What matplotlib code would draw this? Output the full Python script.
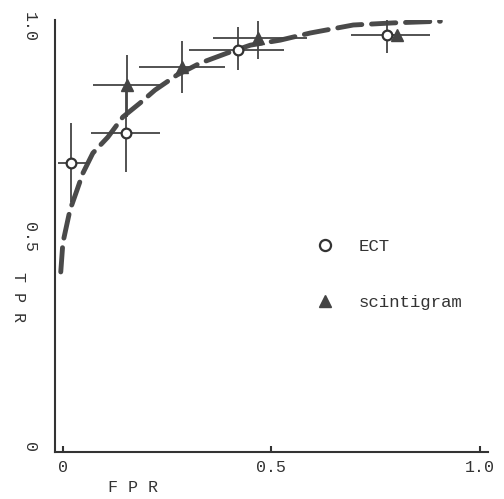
import matplotlib
matplotlib.use("Agg")
import matplotlib.pyplot as plt
from matplotlib.lines import Line2D

plt.rcParams['font.family'] = ['Liberation Mono', 'DejaVu Sans Mono']

# ECT points (FPR, TPR) with asymmetric errors
ect_fpr = [0.019, 0.151, 0.420, 0.779]
ect_tpr = [0.676, 0.748, 0.945, 0.980]
ect_xerr_lo = [0.031, 0.084, 0.117, 0.087]
ect_xerr_hi = [0.044, 0.082, 0.111, 0.020]
ect_yerr_lo = [0.093, 0.093, 0.047, 0.042]
ect_yerr_hi = [0.095, 0.097, 0.055, 0.046]

# scintigram points
sc_fpr = [0.154, 0.286, 0.469, 0.803]
sc_tpr = [0.862, 0.905, 0.974, 0.981]
sc_xerr_lo = [0.082, 0.103, 0.108, 0.030]
sc_xerr_hi = [0.079, 0.103, 0.118, 0.079]
sc_yerr_lo = [0.076, 0.062, 0.050, 0.0]
sc_yerr_hi = [0.071, 0.062, 0.041, 0.0]

# fitted ROC curve
curve_fpr = [-0.005, 0.0, 0.017, 0.034, 0.048, 0.072, 0.108, 0.144, 0.185,
             0.221, 0.274, 0.329, 0.394, 0.450, 0.522, 0.594, 0.697, 0.793, 0.906]
curve_tpr = [0.417, 0.486, 0.564, 0.612, 0.652, 0.700, 0.738, 0.786, 0.819,
             0.850, 0.886, 0.914, 0.938, 0.957, 0.969, 0.986, 1.005, 1.010, 1.014]

fig = plt.figure(figsize=(5.04, 4.99), dpi=100)
ax = fig.add_axes([0.109, 0.094, 0.859, 0.866])

ax.plot(curve_fpr, curve_tpr, color='#4a4a4a', lw=3.5, ls=(0, (5, 2.0)),
        solid_capstyle='round', dash_capstyle='round', zorder=2)

ax.errorbar(ect_fpr, ect_tpr,
            xerr=[ect_xerr_lo, ect_xerr_hi], yerr=[ect_yerr_lo, ect_yerr_hi],
            fmt='none', ecolor='#444444', elinewidth=1.3, capsize=0, zorder=3)
ax.errorbar(sc_fpr, sc_tpr,
            xerr=[sc_xerr_lo, sc_xerr_hi], yerr=[sc_yerr_lo, sc_yerr_hi],
            fmt='none', ecolor='#444444', elinewidth=1.3, capsize=0, zorder=3)
ax.plot(ect_fpr, ect_tpr, 'o', ms=7, mfc='white', mec='#333333', mew=1.6,
        ls='none', zorder=4)
ax.plot(sc_fpr, sc_tpr, '^', ms=8, mfc='#444444', mec='#444444',
        ls='none', zorder=4)

ax.set_xlim(-0.019, 1.02)
ax.set_ylim(-0.012, 1.017)
for s in ['top', 'right']:
    ax.spines[s].set_visible(False)
for s in ['left', 'bottom']:
    ax.spines[s].set_color('#333333')
    ax.spines[s].set_linewidth(1.5)

ax.set_xticks([0, 0.5, 1.0])
ax.set_xticklabels(['0', '0.5', '1.0'], fontsize=12, color='#333333')
ax.set_yticks([0, 0.5, 1.0])
ax.set_yticklabels(['0', '0.5', '1.0'], fontsize=12, color='#333333',
                   rotation=270, va='center')
ax.tick_params(axis='x', direction='in', length=4, width=1.5, pad=6, colors='#333333')
ax.tick_params(axis='y', length=0, pad=13)

ax.set_xlabel('F P R', fontsize=12, color='#333333')
ax.xaxis.set_label_coords(0.18, -0.065)
ax.set_ylabel('T P R', fontsize=12, color='#333333', rotation=270, va='center')
ax.yaxis.set_label_coords(-0.085, 0.36)

handles = [Line2D([], [], marker='o', ls='none', ms=8, mfc='white',
                  mec='#333333', mew=1.6),
           Line2D([], [], marker='^', ls='none', ms=9, mfc='#444444',
                  mec='#444444')]
ax.legend(handles, ['ECT', 'scintigram'], loc='upper left',
          bbox_to_anchor=(0.568, 0.53), frameon=False, fontsize=12.5,
          labelspacing=2.35, handletextpad=1.4, handlelength=1.0,
          labelcolor='#333333')

fig.savefig('out.png', dpi=100, facecolor='white')
